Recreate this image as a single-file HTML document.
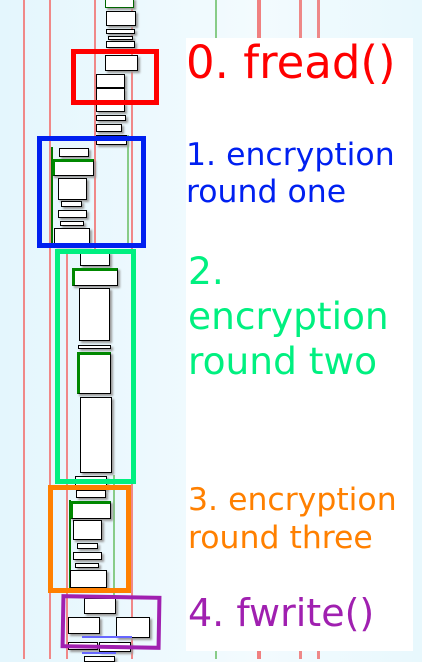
<!DOCTYPE html>
<html><head><meta charset="utf-8"><style>
body{margin:0;width:422px;height:659px;overflow:hidden;background:linear-gradient(90deg,#e4f6fd,#f3fbfe 60%,#e8f8fd);position:relative;font-family:"DejaVu Sans","Liberation Sans",sans-serif}
div{position:absolute;box-sizing:border-box}
.v{width:2px;background:#f08888}
.g{width:2px;background:#8c8}
.b{background:#fff;border:1px solid #000;box-shadow:2px 2px 2px #999}
.gb{border-left:3px solid #080;border-top:3px solid #080}
.f{border-style:solid;background:transparent}
.t{white-space:nowrap;line-height:1}
</style></head><body>
<div class="v" style="left:23px;top:0;height:659px"></div>
<div class="v" style="left:49px;top:0;height:659px"></div>
<div class="v" style="left:94px;top:0;height:250px"></div>
<div class="v" style="left:66px;top:250px;height:409px"></div>
<div class="v" style="left:131px;top:0;height:659px"></div>
<div class="g" style="left:127px;top:135px;height:112px"></div>
<div style="left:51px;top:147px;width:2px;height:100px;background:#070"></div>
<div class="g" style="left:113px;top:475px;height:140px"></div>
<div style="left:69px;top:500px;width:2px;height:90px;background:#070"></div>

<div class="b" style="left:105px;top:-2px;width:29px;height:10px;border-color:#060"></div>
<div class="b" style="left:106px;top:11px;width:30px;height:15px"></div>
<div class="b" style="left:106px;top:29px;width:29px;height:5px"></div>
<div class="b" style="left:108px;top:36px;width:25px;height:4px"></div>
<div class="b" style="left:106px;top:41px;width:29px;height:7px"></div>
<div class="b" style="left:105px;top:55px;width:33px;height:16px"></div>
<div class="b" style="left:96px;top:74px;width:29px;height:14px"></div>
<div class="b" style="left:96px;top:88px;width:29px;height:13px"></div>
<div class="b" style="left:96px;top:103px;width:29px;height:9px"></div>
<div class="b" style="left:96px;top:115px;width:30px;height:6px"></div>
<div class="b" style="left:96px;top:124px;width:26px;height:8px"></div>
<div class="b" style="left:96px;top:135px;width:31px;height:10px"></div>

<div class="b" style="left:59px;top:148px;width:30px;height:9px"></div>
<div class="b gb" style="left:52px;top:159px;width:42px;height:17px"></div>
<div class="b" style="left:58px;top:178px;width:29px;height:22px"></div>
<div class="b" style="left:61px;top:201px;width:21px;height:6px"></div>
<div class="b" style="left:58px;top:210px;width:29px;height:8px"></div>
<div class="b" style="left:60px;top:221px;width:24px;height:5px"></div>
<div class="b" style="left:54px;top:228px;width:36px;height:18px"></div>

<div class="b" style="left:80px;top:252px;width:30px;height:14px"></div>
<div class="b gb" style="left:72px;top:268px;width:46px;height:18px"></div>
<div class="b" style="left:79px;top:288px;width:31px;height:53px"></div>
<div class="b" style="left:78px;top:345px;width:33px;height:4px"></div>
<div class="b gb" style="left:77px;top:352px;width:34px;height:42px"></div>
<div class="b" style="left:80px;top:397px;width:32px;height:76px"></div>
<div class="b" style="left:75px;top:476px;width:32px;height:14px"></div>

<div class="b" style="left:76px;top:490px;width:30px;height:8px"></div>
<div class="b gb" style="left:70px;top:501px;width:41px;height:18px"></div>
<div class="b" style="left:73px;top:520px;width:29px;height:20px"></div>
<div class="b" style="left:77px;top:543px;width:21px;height:6px"></div>
<div class="b" style="left:73px;top:552px;width:29px;height:8px"></div>
<div class="b" style="left:75px;top:563px;width:24px;height:5px"></div>
<div class="b" style="left:70px;top:570px;width:37px;height:18px"></div>

<div class="b" style="left:84px;top:598px;width:32px;height:16px"></div>
<div class="b" style="left:68px;top:617px;width:32px;height:17px"></div>
<div class="b" style="left:116px;top:617px;width:34px;height:21px"></div>
<div class="b" style="left:68px;top:642px;width:30px;height:8px"></div>
<div class="b" style="left:99px;top:642px;width:32px;height:10px"></div>
<div class="b" style="left:84px;top:656px;width:31px;height:6px"></div>
<div style="left:82px;top:636px;width:50px;height:2px;background:#66f"></div>
<div style="left:82px;top:652px;width:34px;height:2px;background:#66f"></div>

<div class="f" style="left:71px;top:49px;width:88px;height:56px;border-width:5px;border-color:#f00"></div>
<div class="f" style="left:37px;top:136px;width:109px;height:112px;border-width:5px;border-color:#0020f0"></div>
<div class="f" style="left:55px;top:249px;width:81px;height:235px;border-width:5px;border-color:#00f080"></div>
<div class="f" style="left:48px;top:485px;width:83px;height:108px;border-width:5px;border-color:#ff8000"></div>
<div class="f" style="left:61px;top:595px;width:100px;height:54px;border-width:4px;border-color:#a020b0;transform:rotate(1deg)"></div>

<div style="left:215px;top:0;width:2px;height:38px;background:#8c8"></div>
<div style="left:257px;top:0;width:4px;height:38px;background:#f08080"></div>
<div style="left:299px;top:0;width:3px;height:38px;background:#e88"></div>
<div style="left:317px;top:0;width:3px;height:38px;background:#e88"></div>
<div style="left:215px;top:651px;width:2px;height:8px;background:#8c8"></div>
<div style="left:257px;top:651px;width:4px;height:8px;background:#f08080"></div>
<div style="left:299px;top:651px;width:3px;height:8px;background:#e88"></div>
<div style="left:317px;top:651px;width:3px;height:8px;background:#e88"></div>

<div style="left:186px;top:38px;width:227px;height:613px;background:#fff"></div>
<div class="t" style="left:186px;top:40px;font-size:45px;color:#f00">0. fread()</div>
<div class="t" style="left:186px;top:137px;font-size:31.5px;line-height:37px;color:#0020f0">1. encryption<br>round one</div>
<div class="t" style="left:188px;top:249px;font-size:37.5px;line-height:45px;color:#00f080">2.<br>encryption<br>round two</div>
<div class="t" style="left:188px;top:481px;font-size:31.5px;line-height:38px;color:#ff8000">3. encryption<br>round three</div>
<div class="t" style="left:188px;top:594px;font-size:38px;color:#a020b0">4. fwrite()</div>
</body></html>
